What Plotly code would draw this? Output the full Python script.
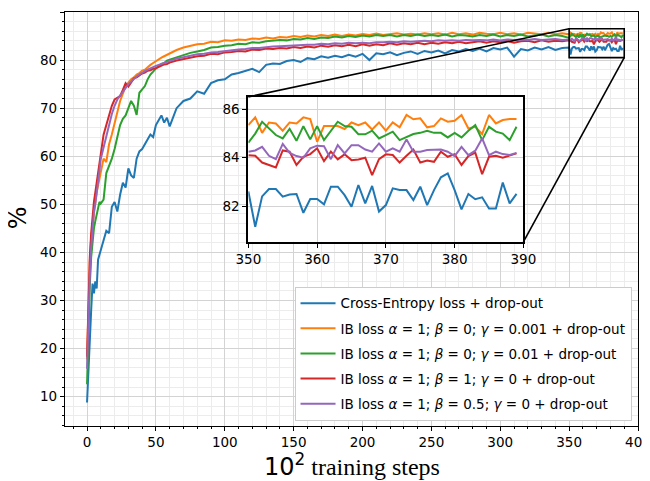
import plotly.graph_objects as go

# ---------------- data (accuracy %, x in units of 10^2 training steps) ----------------
steps = list(range(0, 11)) + list(range(12, 61, 2)) + list(range(65, 346, 5)) + list(range(350, 390))

labels = [
    "Cross-Entropy loss + drop-out",
    "IB loss <i>α</i> = 1; <i>β</i> = 0; <i>γ</i> = 0.001 + drop-out",
    "IB loss <i>α</i> = 1; <i>β</i> = 0; <i>γ</i> = 0.01 + drop-out",
    "IB loss <i>α</i> = 1; <i>β</i> = 1; <i>γ</i> = 0 + drop-out",
    "IB loss <i>α</i> = 1; <i>β</i> = 0.5; <i>γ</i> = 0 + drop-out",
]
colors = ["#1f77b4", "#ff7f0e", "#2ca02c", "#d62728", "#9467bd"]

blue = ([8.8, 16.0, 22.0, 28.0, 33.5, 31.5, 34.0, 32.5, 38.5, 39.5, 41.0]
        + [43.0, 44.5, 44.0, 49.5, 50.5, 48.5, 52.0, 54.5, 53.5, 57.5, 56.0, 55.5, 59.5, 61.0, 61.5,
           62.5, 63.5, 64.5, 64.0, 66.5, 67.5, 68.5, 67.0, 68.0, 66.2]
        + [70.0, 71.5, 72.0, 73.5, 73.0, 75.2, 75.8, 76.0, 77.0, 77.3,
           77.8, 78.2, 77.5, 79.0, 79.3, 79.2, 79.8, 80.0, 79.6, 80.4,
           80.2, 80.8, 80.5, 80.9, 80.6, 81.1, 80.7, 81.3, 80.0, 81.4,
           81.2, 81.6, 81.0, 81.5, 81.8, 81.3, 81.9, 81.6, 82.0, 81.4,
           82.1, 81.8, 82.3, 81.9, 82.4, 81.8, 82.5, 82.2, 82.6, 80.7,
           82.3, 82.0, 82.6, 82.2, 82.7, 82.1, 82.5]
        + [82.6, 81.14, 82.4, 82.7, 82.7, 82.39, 82.48, 82.5, 81.72, 82.29,
           82.29, 82.07, 82.8, 82.8, 82.45, 81.97, 82.87, 82.11, 82.83, 81.77,
           82.04, 82.73, 82.66, 82.66, 82.25, 82.8, 82.04, 82.66, 83.19, 83.35,
           82.66, 81.86, 82.5, 82.28, 82.36, 81.9, 81.9, 82.97, 82.11, 82.5])

orange = ([17.8, 30.0, 38.0, 43.0, 46.0, 48.5, 50.5, 52.5, 54.0, 55.0, 56.5]
          + [59.5, 58.8, 62.5, 64.5, 67.0, 69.5, 71.5, 73.0, 74.5, 75.3, 76.0, 76.4, 77.0, 77.3, 77.8,
             78.0, 78.6, 79.0, 79.4, 79.8, 80.2, 80.5, 80.8, 81.1, 81.4]
          + [82.1, 82.6, 83.0, 83.3, 83.4, 83.8, 83.7, 84.1, 84.0, 84.3,
             84.2, 84.5, 84.4, 84.7, 84.5, 84.8, 84.7, 85.0, 84.8, 85.1,
             84.9, 85.2, 85.0, 85.3, 85.0, 85.3, 85.1, 85.4, 85.2, 85.5,
             85.2, 85.4, 85.6, 85.3, 85.5, 85.3, 85.6, 85.4, 85.6, 85.3,
             85.7, 85.4, 85.6, 85.3, 85.7, 85.5, 85.4, 85.7, 85.4, 85.6,
             85.3, 85.7, 85.5, 85.4, 85.7, 85.4, 85.6]
          + [85.35, 85.67, 85.03, 85.46, 85.42, 85.12, 85.46, 85.42, 85.67, 85.6,
             84.66, 85.31, 85.31, 85.31, 85.19, 85.46, 85.35, 85.46, 85.17, 85.46,
             85.12, 85.46, 85.26, 85.77, 85.59, 85.63, 85.26, 85.31, 85.63, 85.49,
             85.53, 85.77, 85.21, 85.28, 84.98, 85.77, 85.42, 85.56, 85.6, 85.6])

green = ([12.6, 25.0, 33.0, 39.0, 42.5, 45.0, 46.5, 48.0, 49.5, 50.5, 50.2]
         + [51.0, 56.5, 58.0, 59.5, 61.5, 64.0, 66.5, 67.8, 68.5, 70.0, 71.5, 70.5, 68.6, 73.2, 74.0,
            74.6, 76.0, 77.0, 77.6, 78.3, 78.7, 79.2, 79.4, 79.9, 80.1]
         + [80.6, 81.1, 81.5, 81.8, 82.1, 82.6, 82.7, 83.0, 83.1, 83.4,
            83.3, 83.7, 83.6, 83.9, 84.0, 84.2, 84.1, 84.4, 84.3, 84.6,
            84.4, 84.7, 84.6, 84.9, 84.7, 85.0, 84.8, 85.1, 84.9, 85.2,
            85.0, 85.2, 84.9, 85.2, 85.0, 85.3, 85.0, 85.2, 85.0, 85.3,
            84.9, 85.2, 85.1, 84.9, 85.2, 85.0, 85.3, 84.9, 85.2, 85.0,
            85.3, 84.9, 85.1, 85.3, 84.9, 85.2, 85.0]
         + [84.62, 85.0, 85.49, 85.2, 84.94, 84.8, 85.2, 84.7, 85.31, 84.76,
            85.31, 84.73, 85.12, 85.49, 85.31, 85.28, 84.97, 84.97, 85.12, 84.8,
            84.94, 85.08, 84.73, 84.87, 84.98, 85.03, 85.12, 85.03, 85.03, 84.84,
            85.03, 84.84, 85.12, 85.35, 84.73, 85.28, 85.08, 85.0, 84.73, 85.28])

red = ([18.3, 32.0, 39.0, 44.0, 48.0, 50.5, 52.5, 54.5, 57.0, 59.5, 61.5]
       + [64.5, 66.5, 68.5, 70.5, 71.8, 72.2, 72.5, 73.8, 75.2, 74.5, 75.5, 76.2, 76.4, 76.8, 77.2,
          77.4, 77.8, 77.9, 78.2, 78.3, 78.6, 78.8, 79.1, 79.2, 79.5]
       + [79.9, 80.2, 80.5, 80.8, 80.9, 81.3, 81.2, 81.6, 81.7, 81.9,
          81.8, 82.2, 82.1, 82.4, 82.3, 82.5, 82.4, 82.7, 82.5, 82.8,
          82.6, 83.0, 82.8, 83.1, 82.9, 83.2, 82.9, 83.3, 83.0, 83.3,
          83.1, 83.5, 83.2, 83.5, 83.3, 83.6, 83.3, 83.6, 83.4, 83.7,
          83.5, 83.8, 83.5, 83.7, 83.9, 83.6, 83.9, 83.7, 84.0, 83.6,
          83.9, 84.0, 83.7, 84.1, 83.8, 84.0, 83.9]
       + [84.1, 84.08, 83.8, 83.7, 83.6, 84.3, 84.25, 83.7, 84.04, 84.15,
          84.39, 83.86, 84.25, 83.93, 84.14, 83.9, 83.93, 84.0, 83.28, 83.94,
          84.14, 84.11, 83.8, 84.08, 84.34, 83.8, 83.88, 83.83, 84.25, 84.04,
          84.15, 83.7, 84.07, 84.21, 83.32, 84.04, 84.08, 84.0, 84.1, 84.18])

purple = ([15.8, 28.0, 35.0, 41.0, 45.0, 48.5, 50.0, 52.0, 54.5, 57.0, 59.5]
          + [62.0, 64.5, 66.8, 68.8, 70.5, 71.8, 72.6, 73.5, 74.2, 75.0, 75.6, 76.1, 76.6, 77.0, 77.4,
             77.7, 78.0, 78.3, 78.6, 78.8, 79.0, 79.2, 79.5, 79.6, 79.9]
          + [80.3, 80.6, 80.9, 81.2, 81.3, 81.6, 81.7, 81.9, 82.1, 82.2,
             82.3, 82.5, 82.5, 82.7, 82.8, 82.9, 83.0, 83.0, 83.1, 83.2,
             83.2, 83.4, 83.3, 83.5, 83.4, 83.6, 83.5, 83.6, 83.5, 83.7,
             83.7, 83.8, 83.7, 83.9, 83.8, 83.9, 84.0, 83.9, 84.1, 84.0,
             84.1, 84.0, 84.2, 84.1, 84.2, 84.1, 84.3, 84.1, 84.3, 84.2,
             84.3, 84.2, 84.4, 84.2, 84.3, 84.4, 84.2]
          + [84.25, 84.3, 84.45, 84.08, 83.94, 84.57, 84.2, 84.07, 84.0, 84.39,
             84.5, 84.48, 83.94, 84.52, 84.18, 84.52, 84.52, 84.34, 84.25, 84.59,
             84.25, 84.39, 84.25, 84.76, 84.25, 84.25, 84.32, 84.34, 84.34, 84.25,
             84.07, 84.45, 84.11, 84.29, 84.8, 84.11, 84.25, 84.15, 84.11, 84.2])

series = [blue, orange, green, red, purple]
for s in series:
    assert len(s) == len(steps), (len(s), len(steps))

x_ticks = [0, 50, 100, 150, 200, 250, 300, 350, 400]
y_ticks = [10, 20, 30, 40, 50, 60, 70, 80, 90]
inset_x_ticks = [350, 360, 370, 380, 390]
inset_y_ticks = [82, 84, 86]

# ---------------- layout parameters ----------------
XR = [-16, 400]
YR = [3.9, 90]
XR2 = [350, 390]
YR2 = [80.52, 86.52]
INSET_X = [0.320, 0.800]
INSET_Y = [0.445, 0.795]

FONT = "DejaVu Sans"
fig = go.Figure()

for i, (s, lab, c) in enumerate(zip(series, labels, colors)):
    fig.add_trace(go.Scatter(x=steps, y=s, mode="lines", name=lab,
                             line=dict(color=c, width=2), legendgroup=str(i),
                             xaxis="x", yaxis="y"))
for i, (s, c) in enumerate(zip(series, colors)):
    xs = [x for x in steps if x >= XR2[0]]
    ys = [v for x, v in zip(steps, s) if x >= XR2[0]]
    fig.add_trace(go.Scatter(x=xs, y=ys, mode="lines", showlegend=False,
                             line=dict(color=c, width=2), xaxis="x2", yaxis="y2"))


def px_x(v):
    return (v - XR[0]) / (XR[1] - XR[0])


def px_y(v):
    return (v - YR[0]) / (YR[1] - YR[0])


tickfont = dict(family=FONT, size=13.5, color="#000000")
axis_common = dict(showline=True, linecolor="black", linewidth=1.2, mirror=True,
                   ticks="outside", ticklen=4, tickwidth=1, tickcolor="black",
                   showgrid=True, gridcolor="#d3d3d3", gridwidth=1,
                   zeroline=False, tickfont=tickfont)

# the page body adds an 8px offset; margins compensate so the axes land where the reference has them
fig.update_layout(
    width=660, height=473,
    margin=dict(l=57, r=30, t=4, b=55, autoexpand=False),
    paper_bgcolor="white", plot_bgcolor="white",
    xaxis=dict(range=XR, tickvals=x_ticks, domain=[0, 1], anchor="y", automargin=True,
               minor=dict(dtick=10, tick0=0, ticks="outside", ticklen=2, tickcolor="black",
                          showgrid=True, gridcolor="#ececec", gridwidth=1),
               **axis_common),
    yaxis=dict(range=YR, tickvals=y_ticks, domain=[0, 1], anchor="x", automargin=False,
               minor=dict(dtick=2, tick0=0, ticks="outside", ticklen=2, tickcolor="black",
                          showgrid=True, gridcolor="#ececec", gridwidth=1),
               **axis_common),
    xaxis2=dict(range=XR2, tickvals=inset_x_ticks, domain=INSET_X, anchor="y2", automargin=False,
                **{**axis_common, "linewidth": 2}),
    yaxis2=dict(range=YR2, tickvals=inset_y_ticks, domain=INSET_Y, anchor="x2", automargin=False,
                **{**axis_common, "linewidth": 2}),
    legend=dict(x=0.9887, y=0.336, xanchor="right", yanchor="top",
                bgcolor="white", bordercolor="#cccccc", borderwidth=1,
                font=dict(family=FONT, size=13.5, color="#000000"),
                itemwidth=35, tracegroupgap=4.6),
    showlegend=True,
)

# zoom rectangle and connector lines
fig.add_shape(type="rect", xref="x", yref="y", x0=XR2[0], x1=XR2[1], y0=YR2[0], y1=YR2[1],
              line=dict(color="black", width=1.6), layer="above")
fig.add_shape(type="line", xref="paper", yref="paper",
              x0=px_x(XR2[0]), y0=px_y(YR2[1]), x1=INSET_X[0], y1=INSET_Y[1],
              line=dict(color="black", width=1.6), layer="above")
fig.add_shape(type="line", xref="paper", yref="paper",
              x0=px_x(XR2[1]), y0=px_y(YR2[0]), x1=INSET_X[1], y1=INSET_Y[0],
              line=dict(color="black", width=1.6), layer="above")

# axis titles
fig.add_annotation(text="%", textangle=-90, xref="paper", yref="paper",
                   x=-0.082, y=0.502, xanchor="center", yanchor="middle", showarrow=False,
                   font=dict(family=FONT, size=24, color="black"))
fig.add_annotation(text="<span style='font-family:DejaVu Sans'>10<sup>2</sup></span> training steps",
                   xref="paper", yref="paper", x=0.5, y=-0.093, xanchor="center", yanchor="middle",
                   showarrow=False, font=dict(family="Liberation Serif", size=24, color="black"))

fig.write_html("out.html")
